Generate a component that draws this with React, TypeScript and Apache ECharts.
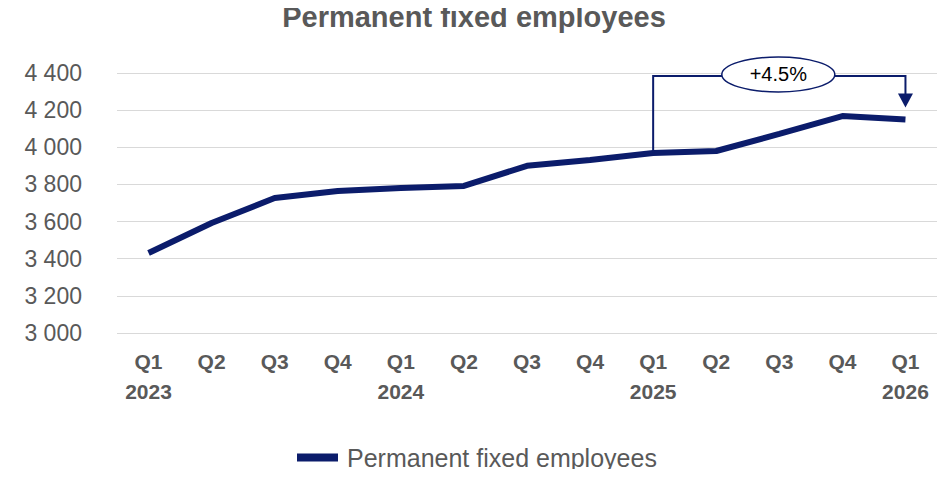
import React, { useEffect, useRef } from "react";
import * as echarts from "echarts";

const quarters = ["Q1", "Q2", "Q3", "Q4", "Q1", "Q2", "Q3", "Q4", "Q1", "Q2", "Q3", "Q4", "Q1"];
const years = ["2023", "", "", "", "2024", "", "", "", "2025", "", "", "", "2026"];
const employees = [3431, 3592, 3727, 3765, 3781, 3792, 3900, 3932, 3969, 3980, 4072, 4168, 4150];
const seriesName = "Permanent fixed employees";
const changeLabel = "+4.5%";
const fromIndex = 8;
const toIndex = 12;

const categories = quarters.map((q, i) => (years[i] ? `${q}\n${years[i]}` : `${q}\n `));

export default function App() {
  const ref = useRef<HTMLDivElement>(null);
  useEffect(() => {
    if (!ref.current) return;
    const chart = echarts.init(ref.current, undefined, { renderer: "svg" });
    const navy = "#0b1c6b";
    chart.setOption({
      animation: false,
      title: {
        text: seriesName,
        left: "center",
        top: 2,
        padding: 0,
        textStyle: { fontFamily: "Liberation Sans", fontSize: 29, fontWeight: "bold", color: "#595959" },
      },
      grid: { left: 117, right: 11, top: 73, bottom: 144 },
      legend: {
        top: 445,
        left: 297,
        padding: 0,
        icon: "rect",
        itemWidth: 41,
        itemHeight: 8,
        itemGap: 10,
        textStyle: { fontFamily: "Liberation Sans", fontSize: 25, color: "#595959", padding: [0, 0, 0, 4] },
        data: [seriesName],
      },
      xAxis: {
        type: "category",
        data: categories,
        boundaryGap: true,
        axisLine: { show: false },
        axisTick: { show: false },
        axisLabel: {
          margin: 13,
          fontFamily: "Liberation Sans",
          fontSize: 21,
          fontWeight: "bold",
          color: "#595959",
          lineHeight: 30,
        },
      },
      yAxis: {
        type: "value",
        min: 3000,
        max: 4400,
        interval: 200,
        axisLine: { show: false },
        axisTick: { show: false },
        splitLine: { lineStyle: { color: "#d9d9d9", width: 1 } },
        axisLabel: {
          margin: 35,
          fontFamily: "Liberation Sans",
          fontSize: 23,
          color: "#595959",
          formatter: (v: number) => String(v).replace(/\B(?=(\d{3})+(?!\d))/g, " "),
        },
      },
      series: [
        {
          name: seriesName,
          type: "line",
          data: employees,
          symbol: "none",
          lineStyle: { color: navy, width: 6 },
          itemStyle: { color: navy },
        },
      ],
    });

    const p0 = chart.convertToPixel({ gridIndex: 0 }, [fromIndex, employees[fromIndex]]) as number[];
    const p1 = chart.convertToPixel({ gridIndex: 0 }, [toIndex, employees[toIndex]]) as number[];
    const topY = chart.convertToPixel({ gridIndex: 0 }, [0, 4384])[1] as number;
    const midX = (p0[0] + p1[0]) / 2 - 1;
    const tipY = p1[1] - 12;
    chart.setOption({
      graphic: [
        {
          type: "polyline",
          shape: { points: [[p0[0], p0[1]], [p0[0], topY], [p1[0], topY], [p1[0], tipY - 12]] },
          style: { stroke: navy, lineWidth: 2, fill: null },
          z: 10,
        },
        {
          type: "polygon",
          shape: { points: [[p1[0] - 7.5, tipY - 14], [p1[0] + 7.5, tipY - 14], [p1[0], tipY]] },
          style: { fill: navy },
          z: 10,
        },
        {
          type: "ellipse",
          shape: { cx: midX, cy: topY - 1.5, rx: 56.5, ry: 17.5 },
          style: { fill: "#ffffff", stroke: navy, lineWidth: 1.5 },
          z: 11,
        },
        {
          type: "text",
          x: midX,
          y: topY - 2,
          style: {
            text: changeLabel,
            fontFamily: "Liberation Sans",
            fontSize: 20,
            fill: "#000000",
            align: "center",
            verticalAlign: "middle",
          },
          z: 12,
        },
      ],
    });
    return () => chart.dispose();
  }, []);
  return <div ref={ref} style={{ width: 948, height: 477, margin: -8 }} />;
}
